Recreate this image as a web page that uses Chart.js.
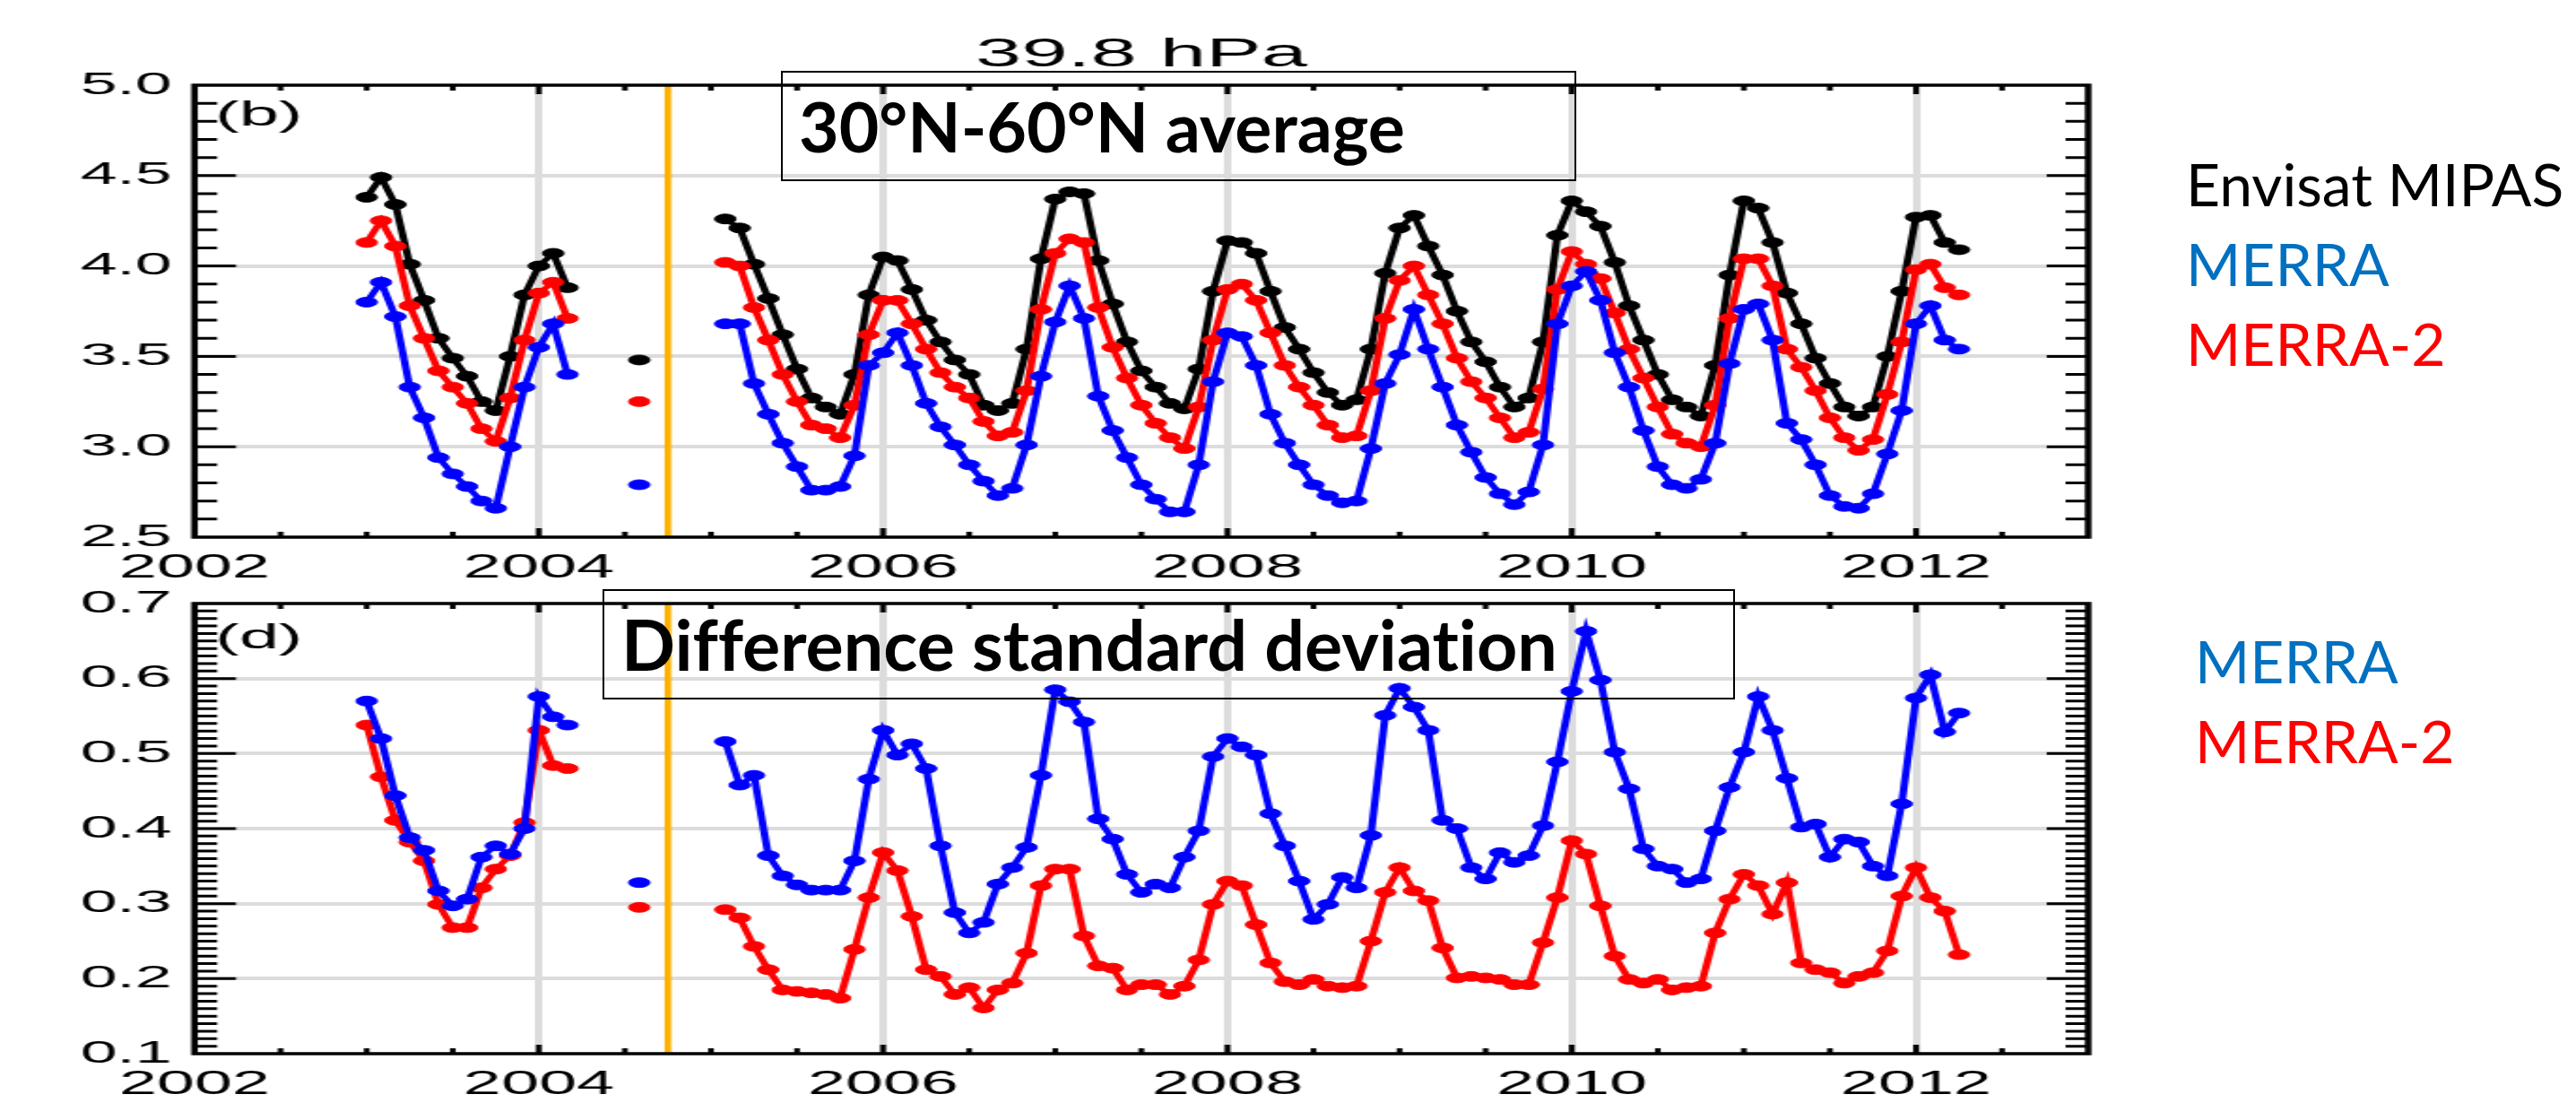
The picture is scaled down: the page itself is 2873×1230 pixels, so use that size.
<!DOCTYPE html>
<html lang="en">
<head>
  <meta charset="UTF-8">
  <title>39.8 hPa</title>
  <script src="https://cdn.jsdelivr.net/npm/chart.js"></script>
  <style>
    body {
      margin: 0;
      background: #fff;
      overflow: hidden;
    }
    #page {
      position: relative;
      width: 2873px;
      height: 1230px;
    }
    /* the IDL plot in the slide is stretched sideways, so the canvases are too */
    canvas {
      position: absolute;
      left: 0;
      transform-origin: 0 0;
      transform: scaleX(2.1);
    }
    #topChart { top: 0; }
    #bottomChart { top: 640px; }
    .note {
      position: absolute;
      border: 2px solid #000;
      box-sizing: border-box;
    }
    .noteText {
      position: absolute;
      font-family: Lato, sans-serif;
      font-weight: bold;
      font-size: 77px;
      line-height: 77px;
      color: #000;
      white-space: nowrap;
      font-variant-ligatures: none;
    }
    .key {
      position: absolute;
      font-family: Lato, sans-serif;
      font-size: 66px;
      line-height: 66px;
      white-space: nowrap;
    }
  </style>
</head>
<body>
<div id="page">
  <canvas id="topChart" width="1120" height="655"></canvas>
  <canvas id="bottomChart" width="1120" height="590"></canvas>

  <div class="note" style="left:871px;top:79px;width:887px;height:123px"></div>
  <div class="noteText" style="left:891px;top:102px">30°N-60°N average</div>
  <div class="note" style="left:672px;top:657px;width:1263px;height:123px"></div>
  <div class="noteText" style="left:693px;top:679px;font-size:79px">Difference standard deviation</div>

  <div class="key" style="left:2438px;top:172px;color:#000">Envisat MIPAS</div>
  <div class="key" style="left:2438px;top:261px;color:#0070c0">MERRA</div>
  <div class="key" style="left:2438px;top:350px;color:#ff0000">MERRA-2</div>
  <div class="key" style="left:2448px;top:704px;color:#0070c0">MERRA</div>
  <div class="key" style="left:2448px;top:793px;color:#ff0000">MERRA-2</div>
</div>

<script>
// monthly means, plotted at the start of each month
const months = [
  '2003-01','2003-02','2003-03','2003-04','2003-05','2003-06','2003-07','2003-08','2003-09','2003-10','2003-11','2003-12',
  '2004-01','2004-02','2004-03','2004-08',
  '2005-02','2005-03','2005-04','2005-05','2005-06','2005-07','2005-08','2005-09','2005-10','2005-11','2005-12',
  '2006-01','2006-02','2006-03','2006-04','2006-05','2006-06','2006-07','2006-08','2006-09','2006-10','2006-11','2006-12',
  '2007-01','2007-02','2007-03','2007-04','2007-05','2007-06','2007-07','2007-08','2007-09','2007-10','2007-11','2007-12',
  '2008-01','2008-02','2008-03','2008-04','2008-05','2008-06','2008-07','2008-08','2008-09','2008-10','2008-11','2008-12',
  '2009-01','2009-02','2009-03','2009-04','2009-05','2009-06','2009-07','2009-08','2009-09','2009-10','2009-11','2009-12',
  '2010-01','2010-02','2010-03','2010-04','2010-05','2010-06','2010-07','2010-08','2010-09','2010-10','2010-11','2010-12',
  '2011-01','2011-02','2011-03','2011-04','2011-05','2011-06','2011-07','2011-08','2011-09','2011-10','2011-11','2011-12',
  '2012-01','2012-02','2012-03','2012-04'
];

// (b) 30N-60N average
const mipas = [
  4.38, 4.49, 4.34, 4.01, 3.81, 3.60, 3.49, 3.39, 3.25, 3.20, 3.50, 3.84,
  4.00, 4.07, 3.88, 3.48,
  4.26, 4.21, 4.01, 3.82, 3.62, 3.43, 3.27, 3.22, 3.18, 3.40, 3.84,
  4.05, 4.03, 3.87, 3.70, 3.58, 3.48, 3.40, 3.23, 3.20, 3.24, 3.54, 4.04,
  4.37, 4.41, 4.40, 4.03, 3.79, 3.58, 3.42, 3.33, 3.24, 3.21, 3.43, 3.86,
  4.14, 4.13, 4.07, 3.86, 3.66, 3.54, 3.41, 3.30, 3.23, 3.26, 3.54, 3.96,
  4.21, 4.28, 4.11, 3.95, 3.75, 3.58, 3.47, 3.33, 3.22, 3.27, 3.58, 4.17,
  4.36, 4.30, 4.22, 4.02, 3.78, 3.59, 3.40, 3.26, 3.22, 3.17, 3.45, 3.95,
  4.36, 4.32, 4.13, 3.85, 3.68, 3.49, 3.35, 3.22, 3.17, 3.22, 3.50, 3.86,
  4.27, 4.28, 4.13, 4.09
];
const merra = [
  3.80, 3.91, 3.72, 3.33, 3.16, 2.94, 2.85, 2.78, 2.70, 2.66, 3.00, 3.33,
  3.55, 3.68, 3.40, 2.79,
  3.68, 3.68, 3.35, 3.18, 3.02, 2.89, 2.76, 2.76, 2.78, 2.95, 3.45,
  3.52, 3.63, 3.45, 3.24, 3.11, 3.01, 2.90, 2.81, 2.73, 2.77, 3.01, 3.39,
  3.69, 3.89, 3.71, 3.28, 3.09, 2.94, 2.79, 2.71, 2.64, 2.64, 2.90, 3.36,
  3.63, 3.61, 3.45, 3.18, 3.02, 2.90, 2.79, 2.73, 2.69, 2.70, 2.99, 3.35,
  3.51, 3.76, 3.54, 3.33, 3.12, 2.97, 2.83, 2.74, 2.68, 2.75, 3.01, 3.68,
  3.89, 3.97, 3.81, 3.52, 3.33, 3.09, 2.89, 2.79, 2.77, 2.82, 3.02, 3.46,
  3.76, 3.79, 3.59, 3.13, 3.04, 2.90, 2.73, 2.67, 2.66, 2.74, 2.96, 3.20,
  3.68, 3.78, 3.59, 3.54
];
const merra2 = [
  4.13, 4.25, 4.11, 3.78, 3.60, 3.42, 3.33, 3.24, 3.10, 3.03, 3.27, 3.59,
  3.85, 3.91, 3.71, 3.25,
  4.02, 4.00, 3.77, 3.59, 3.40, 3.25, 3.12, 3.10, 3.05, 3.23, 3.62,
  3.81, 3.81, 3.68, 3.54, 3.41, 3.33, 3.27, 3.14, 3.06, 3.08, 3.31, 3.76,
  4.07, 4.15, 4.13, 3.77, 3.55, 3.38, 3.23, 3.13, 3.05, 2.99, 3.22, 3.59,
  3.87, 3.90, 3.81, 3.63, 3.45, 3.33, 3.23, 3.12, 3.05, 3.06, 3.31, 3.71,
  3.92, 4.00, 3.84, 3.68, 3.49, 3.36, 3.27, 3.16, 3.05, 3.08, 3.32, 3.87,
  4.08, 4.01, 3.93, 3.74, 3.54, 3.38, 3.22, 3.07, 3.02, 3.00, 3.23, 3.71,
  4.04, 4.04, 3.89, 3.54, 3.44, 3.31, 3.16, 3.05, 2.98, 3.04, 3.29, 3.58,
  3.98, 4.01, 3.88, 3.84
];

// (d) difference standard deviation
const sdMerra = [
  0.570, 0.520, 0.444, 0.388, 0.371, 0.317, 0.297, 0.306, 0.362, 0.377, 0.366, 0.400,
  0.576, 0.549, 0.538, 0.328,
  0.516, 0.458, 0.471, 0.364, 0.337, 0.325, 0.318, 0.318, 0.318, 0.357, 0.466,
  0.531, 0.498, 0.513, 0.480, 0.377, 0.288, 0.261, 0.275, 0.326, 0.348, 0.375, 0.471,
  0.585, 0.569, 0.542, 0.413, 0.386, 0.339, 0.315, 0.326, 0.321, 0.362, 0.397, 0.496,
  0.520, 0.509, 0.498, 0.420, 0.377, 0.330, 0.279, 0.299, 0.335, 0.321, 0.391, 0.551,
  0.587, 0.562, 0.531, 0.411, 0.400, 0.348, 0.333, 0.368, 0.355, 0.364, 0.404, 0.489,
  0.583, 0.663, 0.598, 0.502, 0.453, 0.373, 0.350, 0.346, 0.328, 0.333, 0.397, 0.455,
  0.502, 0.576, 0.531, 0.467, 0.402, 0.406, 0.362, 0.386, 0.382, 0.350, 0.337, 0.433,
  0.574, 0.605, 0.529, 0.554
];
const sdMerra2 = [
  0.538, 0.469, 0.411, 0.382, 0.357, 0.299, 0.268, 0.268, 0.321, 0.346, 0.364, 0.408,
  0.531, 0.484, 0.480, 0.295,
  0.292, 0.281, 0.243, 0.212, 0.185, 0.183, 0.181, 0.179, 0.174, 0.239, 0.308,
  0.368, 0.344, 0.283, 0.212, 0.203, 0.179, 0.188, 0.161, 0.185, 0.194, 0.234, 0.324,
  0.346, 0.346, 0.257, 0.217, 0.214, 0.185, 0.192, 0.192, 0.179, 0.190, 0.225, 0.299,
  0.330, 0.324, 0.272, 0.221, 0.196, 0.192, 0.199, 0.190, 0.188, 0.190, 0.250, 0.315,
  0.348, 0.317, 0.304, 0.241, 0.201, 0.203, 0.201, 0.199, 0.192, 0.192, 0.248, 0.308,
  0.384, 0.366, 0.297, 0.230, 0.199, 0.194, 0.199, 0.185, 0.188, 0.190, 0.261, 0.306,
  0.339, 0.324, 0.286, 0.328, 0.221, 0.212, 0.208, 0.194, 0.203, 0.208, 0.237, 0.310,
  0.348, 0.308, 0.290, 0.232
];

// orange marker between the full- and reduced-resolution MIPAS periods
const gapYear = 2004.75;

// year axis and its labelled ticks
const xMin = 2002, xMax = 2013, xMinor = 0.5;
const yearTicks = [2002, 2004, 2006, 2008, 2010, 2012];
const topTicks = [2.5, 3.0, 3.5, 4.0, 4.5, 5.0];
const bottomTicks = [0.1, 0.2, 0.3, 0.4, 0.5, 0.6, 0.7];

function toYear(m) {
  const [y, mo] = m.split('-').map(Number);
  return y + (mo - 1) / 12;
}

// break the line wherever months are missing
function points(values) {
  const out = [];
  let prev = null;
  months.forEach((m, i) => {
    const x = toYear(m);
    if (prev !== null && x - prev > 0.1) out.push({ x: (x + prev) / 2, y: null });
    out.push({ x: x, y: values[i] });
    prev = x;
  });
  return out;
}

function series(values, color) {
  return {
    data: points(values),
    borderColor: color,
    backgroundColor: color,
    borderWidth: 4,
    pointRadius: 5.5,
    pointHoverRadius: 5.5,
    pointBorderWidth: 1,
    tension: 0,
    spanGaps: false
  };
}

function gapLine(yMin, yMax) {
  return {
    data: [{ x: gapYear, y: yMin }, { x: gapYear, y: yMax }],
    borderColor: '#ffb000',
    borderWidth: 3.6,
    pointRadius: 0
  };
}

// IDL style box: inward ticks on all four sides plus the panel letter
const framePlugin = {
  id: 'frame',
  afterDraw(chart, args, opts) {
    const { ctx, chartArea: a } = chart;
    const xs = chart.scales.x, ys = chart.scales.y;
    ctx.save();
    ctx.strokeStyle = '#000';
    ctx.lineWidth = 3;
    ctx.beginPath();
    const nx = Math.round((xMax - xMin) / xMinor);
    for (let i = 1; i < nx; i++) {
      const v = xMin + i * xMinor;
      const px = xs.getPixelForValue(v);
      const len = yearTicks.includes(v) ? 10 : 6;
      ctx.moveTo(px, a.bottom); ctx.lineTo(px, a.bottom - len);
      ctx.moveTo(px, a.top); ctx.lineTo(px, a.top + len);
    }
    const ny = Math.round((ys.max - ys.min) / opts.minor);
    const yPer = Math.round(opts.major / opts.minor);
    for (let i = 1; i < ny; i++) {
      const py = ys.getPixelForValue(ys.min + i * opts.minor);
      const len = i % yPer === 0 ? 22 : 12;
      ctx.moveTo(a.left, py); ctx.lineTo(a.left + len, py);
      ctx.moveTo(a.right, py); ctx.lineTo(a.right - len, py);
    }
    ctx.stroke();
    ctx.lineWidth = 3.5;
    ctx.strokeRect(a.left, a.top, a.width, a.height);
    ctx.fillStyle = '#000';
    ctx.font = '38px "Liberation Sans"';
    ctx.textBaseline = 'top';
    ctx.fillText(opts.label, a.left + 11, a.top + opts.labelTop);
    ctx.restore();
  }
};

function panel(cfg) {
  const yMin = cfg.yTicks[0], yMax = cfg.yTicks[cfg.yTicks.length - 1];
  const gridColor = (min, max) => c =>
    (c.tick && (Math.abs(c.tick.value - min) < 1e-6 || Math.abs(c.tick.value - max) < 1e-6)) ? 'rgba(0,0,0,0)' : '#dcdcdc';
  return {
    type: 'line',
    data: { datasets: cfg.datasets },
    plugins: [framePlugin],
    options: {
      responsive: false,
      animation: false,
      layout: { padding: { top: cfg.padTop, right: 11, left: 0, bottom: 0 } },
      plugins: {
        legend: { display: false },
        tooltip: { enabled: false },
        title: cfg.title ? {
          display: true,
          text: cfg.title,
          color: '#000',
          fullSize: false,
          font: { family: 'Liberation Sans', size: 44, weight: 'normal', lineHeight: 1 },
          padding: { top: 40, bottom: 11 }
        } : { display: false },
        frame: { label: cfg.label, labelTop: cfg.labelTop, major: cfg.yTicks[1] - cfg.yTicks[0], minor: cfg.yMinor }
      },
      scales: {
        x: {
          type: 'linear',
          min: xMin,
          max: xMax,
          afterBuildTicks: s => { s.ticks = yearTicks.map(v => ({ value: v })); },
          afterFit: s => { s.height = cfg.xHeight; },
          ticks: {
            autoSkip: false,
            maxRotation: 0,
            padding: 13,
            color: '#000',
            font: { family: 'Liberation Sans', size: 36 },
            callback: v => String(v)
          },
          grid: { color: gridColor(xMin, xMax), lineWidth: 4, drawTicks: false },
          border: { display: false }
        },
        y: {
          min: yMin,
          max: yMax,
          afterBuildTicks: s => { s.ticks = cfg.yTicks.map(v => ({ value: v })); },
          afterFit: s => { s.width = 103.3; },
          ticks: {
            padding: 12,
            color: '#000',
            font: { family: 'Liberation Sans', size: 35 },
            callback: v => Number(v).toFixed(1)
          },
          grid: { color: gridColor(yMin, yMax), lineWidth: 4, drawTicks: false },
          border: { display: false }
        }
      }
    }
  };
}

new Chart(document.getElementById('topChart'), panel({
  title: '39.8 hPa',
  label: '(b)',
  labelTop: 16,
  padTop: 0,
  xHeight: 56,
  yTicks: topTicks,
  yMinor: 0.1,
  datasets: [
    series(merra, '#0000ff'),
    series(merra2, '#ff0000'),
    series(mipas, '#000000'),
    gapLine(2.5, 5.0)
  ]
}));

new Chart(document.getElementById('bottomChart'), panel({
  title: null,
  label: '(d)',
  labelTop: 21,
  padTop: 32,
  xHeight: 55,
  yTicks: bottomTicks,
  yMinor: 0.01,
  datasets: [
    series(sdMerra, '#0000ff'),
    series(sdMerra2, '#ff0000'),
    gapLine(0.1, 0.7)
  ]
}));
</script>
</body>
</html>
